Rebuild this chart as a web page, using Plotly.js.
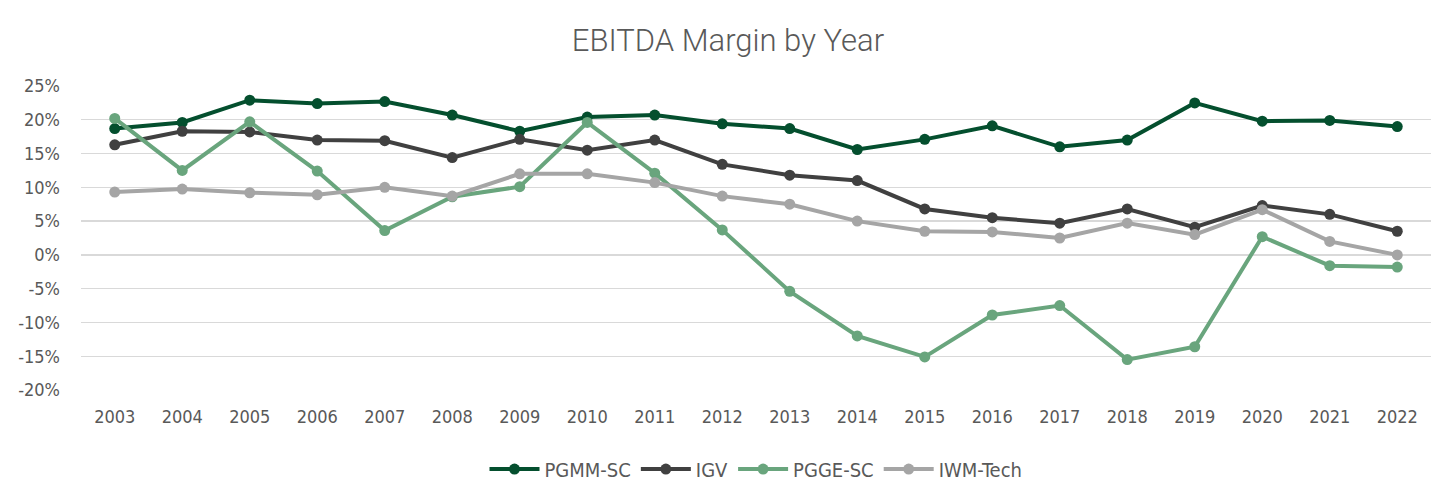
<!DOCTYPE html>
<html><head><meta charset="utf-8">
<script src="https://cdn.plot.ly/plotly-3.0.1.min.js"></script>
<style>html,body{margin:0;padding:0;background:#fff}#chart{width:1456px;height:501px}</style>
</head><body><div id="chart"></div>
<script>
const years = ['2003','2004','2005','2006','2007','2008','2009','2010','2011','2012','2013','2014','2015','2016','2017','2018','2019','2020','2021','2022'];
const pgmmSC = [18.7,19.6,22.9,22.4,22.7,20.7,18.3,20.4,20.7,19.4,18.7,15.6,17.1,19.1,16.0,17.0,22.5,19.8,19.9,19.0];
const igv = [16.3,18.3,18.2,17.0,16.9,14.4,17.1,15.5,17.0,13.4,11.8,11.0,6.8,5.5,4.7,6.8,4.1,7.3,6.0,3.5];
const pggeSC = [20.2,12.5,19.7,12.4,3.6,8.6,10.1,19.6,12.1,3.7,-5.4,-12.0,-15.1,-8.9,-7.5,-15.5,-13.6,2.7,-1.6,-1.8];
const iwmTech = [9.3,9.75,9.2,8.9,10.0,8.7,12.0,12.0,10.7,8.7,7.5,5.0,3.5,3.4,2.5,4.7,3.0,6.7,2.0,0.0];
const seriesNames = ['PGMM-SC','IGV','PGGE-SC','IWM-Tech'];
const seriesData = [pgmmSC, igv, pggeSC, iwmTech];
const colors = ['#044f2e','#404040','#69a57d','#a5a5a5'];
const yTicks = [-20,-15,-10,-5,0,5,10,15,20,25];

const FONT = '"DejaVu Sans Condensed","Liberation Sans Narrow",Roboto,sans-serif';
const traces = seriesData.map((d,i)=>({
  type:'scatter', mode:'lines+markers', name:seriesNames[i],
  x:years, y:d,
  line:{color:colors[i], width:4},
  marker:{color:colors[i], size:11}
}));
const layout = {
  width:1456, height:501,
  margin:{l:81, r:25, t:86, b:109},
  paper_bgcolor:'#fff', plot_bgcolor:'#fff',
  title:{text:'EBITDA Margin by Year', x:0.5, xanchor:'center', y:0.92, yanchor:'middle',
    font:{family:'Roboto,sans-serif', weight:300, size:31, color:'#595959'}},
  font:{family:FONT, color:'#595959', size:18},
  xaxis:{type:'category', range:[-0.5,19.5], showgrid:false, zeroline:false, showline:false,
    ticks:'', tickfont:{family:FONT, size:18, color:'#595959'}, ticklabelstandoff:14, fixedrange:true},
  yaxis:{range:[-20,25], tickvals:yTicks, ticktext:yTicks.map(v=>v+'%'),
    showgrid:true, gridcolor:'#d9d9d9', gridwidth:1.3, zeroline:false, showline:false,
    ticks:'', tickfont:{family:FONT, size:18, color:'#595959'}, ticklabelstandoff:20, fixedrange:true},
  showlegend:true,
  legend:{orientation:'h', x:0.5, xanchor:'center', y:-0.26, yanchor:'middle',
    font:{family:FONT, size:20, color:'#595959'}, itemwidth:50, traceorder:'normal'}
};
Plotly.newPlot('chart', traces, layout, {displayModeBar:false, staticPlot:true});
</script></body></html>
